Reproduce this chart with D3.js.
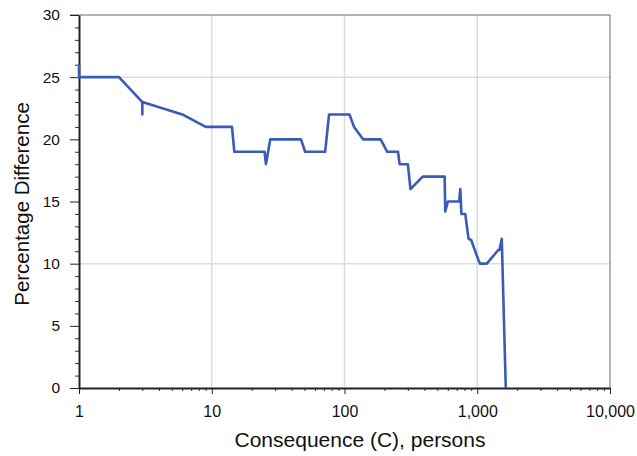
<!DOCTYPE html>
<html>
<head>
<meta charset="utf-8">
<script src="https://cdn.jsdelivr.net/npm/d3@7"></script>
<style>
  body { margin: 0; background: #fff; }
  text { font-family: "Liberation Sans", Arial, sans-serif; fill: #111; }
</style>
</head>
<body>
<div id="chart"></div>
<script>
// consequence (persons) and percentage difference
var consequence = [1, 1, 2, 3, 3, 3, 6, 9, 14.2, 14.8, 25, 25.6, 27.6, 47, 50.5, 71.5, 76.5, 109, 118, 138,
  187, 210, 253, 260, 300, 314, 388, 568, 574, 601, 730, 745, 760, 812, 860, 900, 1020, 1050, 1180, 1440, 1470, 1530, 1640];
var pctDiff = [26, 25, 25, 23, 22, 23, 22, 21, 21, 19, 19, 18, 20, 20, 19, 19, 22, 22, 21, 20,
  20, 19, 19, 18, 18, 16, 17, 17, 14.2, 15, 15, 16, 14, 14, 12, 11.9, 10.3, 10, 10, 11.1, 11.1, 12, 0];

var xTicks = [1, 10, 100, 1000, 10000];
var yTicks = [0, 5, 10, 15, 20, 25, 30];
var xGrid = [10, 100, 1000];
var yGrid = [10, 25];

var width = 637, height = 456;
var margin = {top: 15, right: 27, bottom: 68, left: 79};

var svg = d3.select("#chart").append("svg")
  .attr("width", width)
  .attr("height", height);

var x = d3.scaleLog().domain([1, 10000]).range([margin.left, width - margin.right]);
var y = d3.scaleLinear().domain([0, 30]).range([height - margin.bottom, margin.top]);

// grid lines
svg.selectAll(".vgrid").data(xGrid).enter().append("line")
  .attr("x1", d => x(d)).attr("x2", d => x(d))
  .attr("y1", y(30)).attr("y2", y(0))
  .attr("stroke", "#dcdcdc").attr("stroke-width", 1.5);
svg.selectAll(".hgrid").data(yGrid).enter().append("line")
  .attr("x1", x(1)).attr("x2", x(10000))
  .attr("y1", d => y(d)).attr("y2", d => y(d))
  .attr("stroke", "#dcdcdc").attr("stroke-width", 1.5);

// top and right frame
svg.append("line").attr("x1", x(1) - 9).attr("x2", x(10000))
  .attr("y1", y(30)).attr("y2", y(30)).attr("stroke", "#666").attr("stroke-width", 1);
svg.append("line").attr("x1", x(10000)).attr("x2", x(10000))
  .attr("y1", y(30)).attr("y2", y(0)).attr("stroke", "#666").attr("stroke-width", 1);

// minor ticks
var xMinor = [];
[1, 10, 100, 1000].forEach(function(b) {
  for (var k = 2; k <= 9; k++) xMinor.push(b * k);
});
svg.append("g")
  .attr("transform", "translate(0," + y(0) + ")")
  .call(d3.axisBottom(x).tickValues(xMinor).tickSize(3).tickFormat(""))
  .call(g => g.select(".domain").remove())
  .selectAll("line").attr("stroke", "#333");

var yMinor = d3.range(0, 31, 1).filter(d => d % 5 != 0);
svg.append("g")
  .attr("transform", "translate(" + x(1) + ",0)")
  .call(d3.axisLeft(y).tickValues(yMinor).tickSize(4).tickFormat(""))
  .call(g => g.select(".domain").remove())
  .selectAll("line").attr("stroke", "#333");

// main axes
var xAxis = svg.append("g")
  .attr("transform", "translate(0," + y(0) + ")")
  .call(d3.axisBottom(x).tickValues(xTicks).tickSize(6).tickSizeOuter(0).tickPadding(12)
    .tickFormat(d3.format(",")));
xAxis.select(".domain").attr("stroke", "#222").attr("stroke-width", 1.8);
xAxis.selectAll("line").attr("stroke", "#222");
xAxis.selectAll("text").attr("font-size", 16).style("font-family", "Liberation Sans, Arial, sans-serif");

var yAxis = svg.append("g")
  .attr("transform", "translate(" + x(1) + ",0)")
  .call(d3.axisLeft(y).tickValues(yTicks).tickSize(9).tickSizeOuter(0).tickPadding(10));
yAxis.select(".domain").attr("stroke", "#222").attr("stroke-width", 2);
yAxis.selectAll("line").attr("stroke", "#222");
yAxis.selectAll("text").attr("font-size", 15.5).style("font-family", "Liberation Sans, Arial, sans-serif");

// the curve
var line = d3.line()
  .x((d, i) => x(consequence[i]))
  .y((d, i) => y(pctDiff[i]));

svg.append("path")
  .datum(pctDiff)
  .attr("d", line)
  .attr("fill", "none")
  .attr("stroke", "#3a5bb6")
  .attr("stroke-width", 2.6)
  .attr("stroke-linejoin", "round");

// axis titles
svg.append("text")
  .attr("x", 360)
  .attr("y", 447)
  .attr("text-anchor", "middle")
  .attr("font-size", 21)
  .text("Consequence (C), persons");

svg.append("text")
  .attr("transform", "translate(29,204) rotate(-90)")
  .attr("text-anchor", "middle")
  .attr("font-size", 20.5)
  .text("Percentage Difference");
</script>
</body>
</html>
